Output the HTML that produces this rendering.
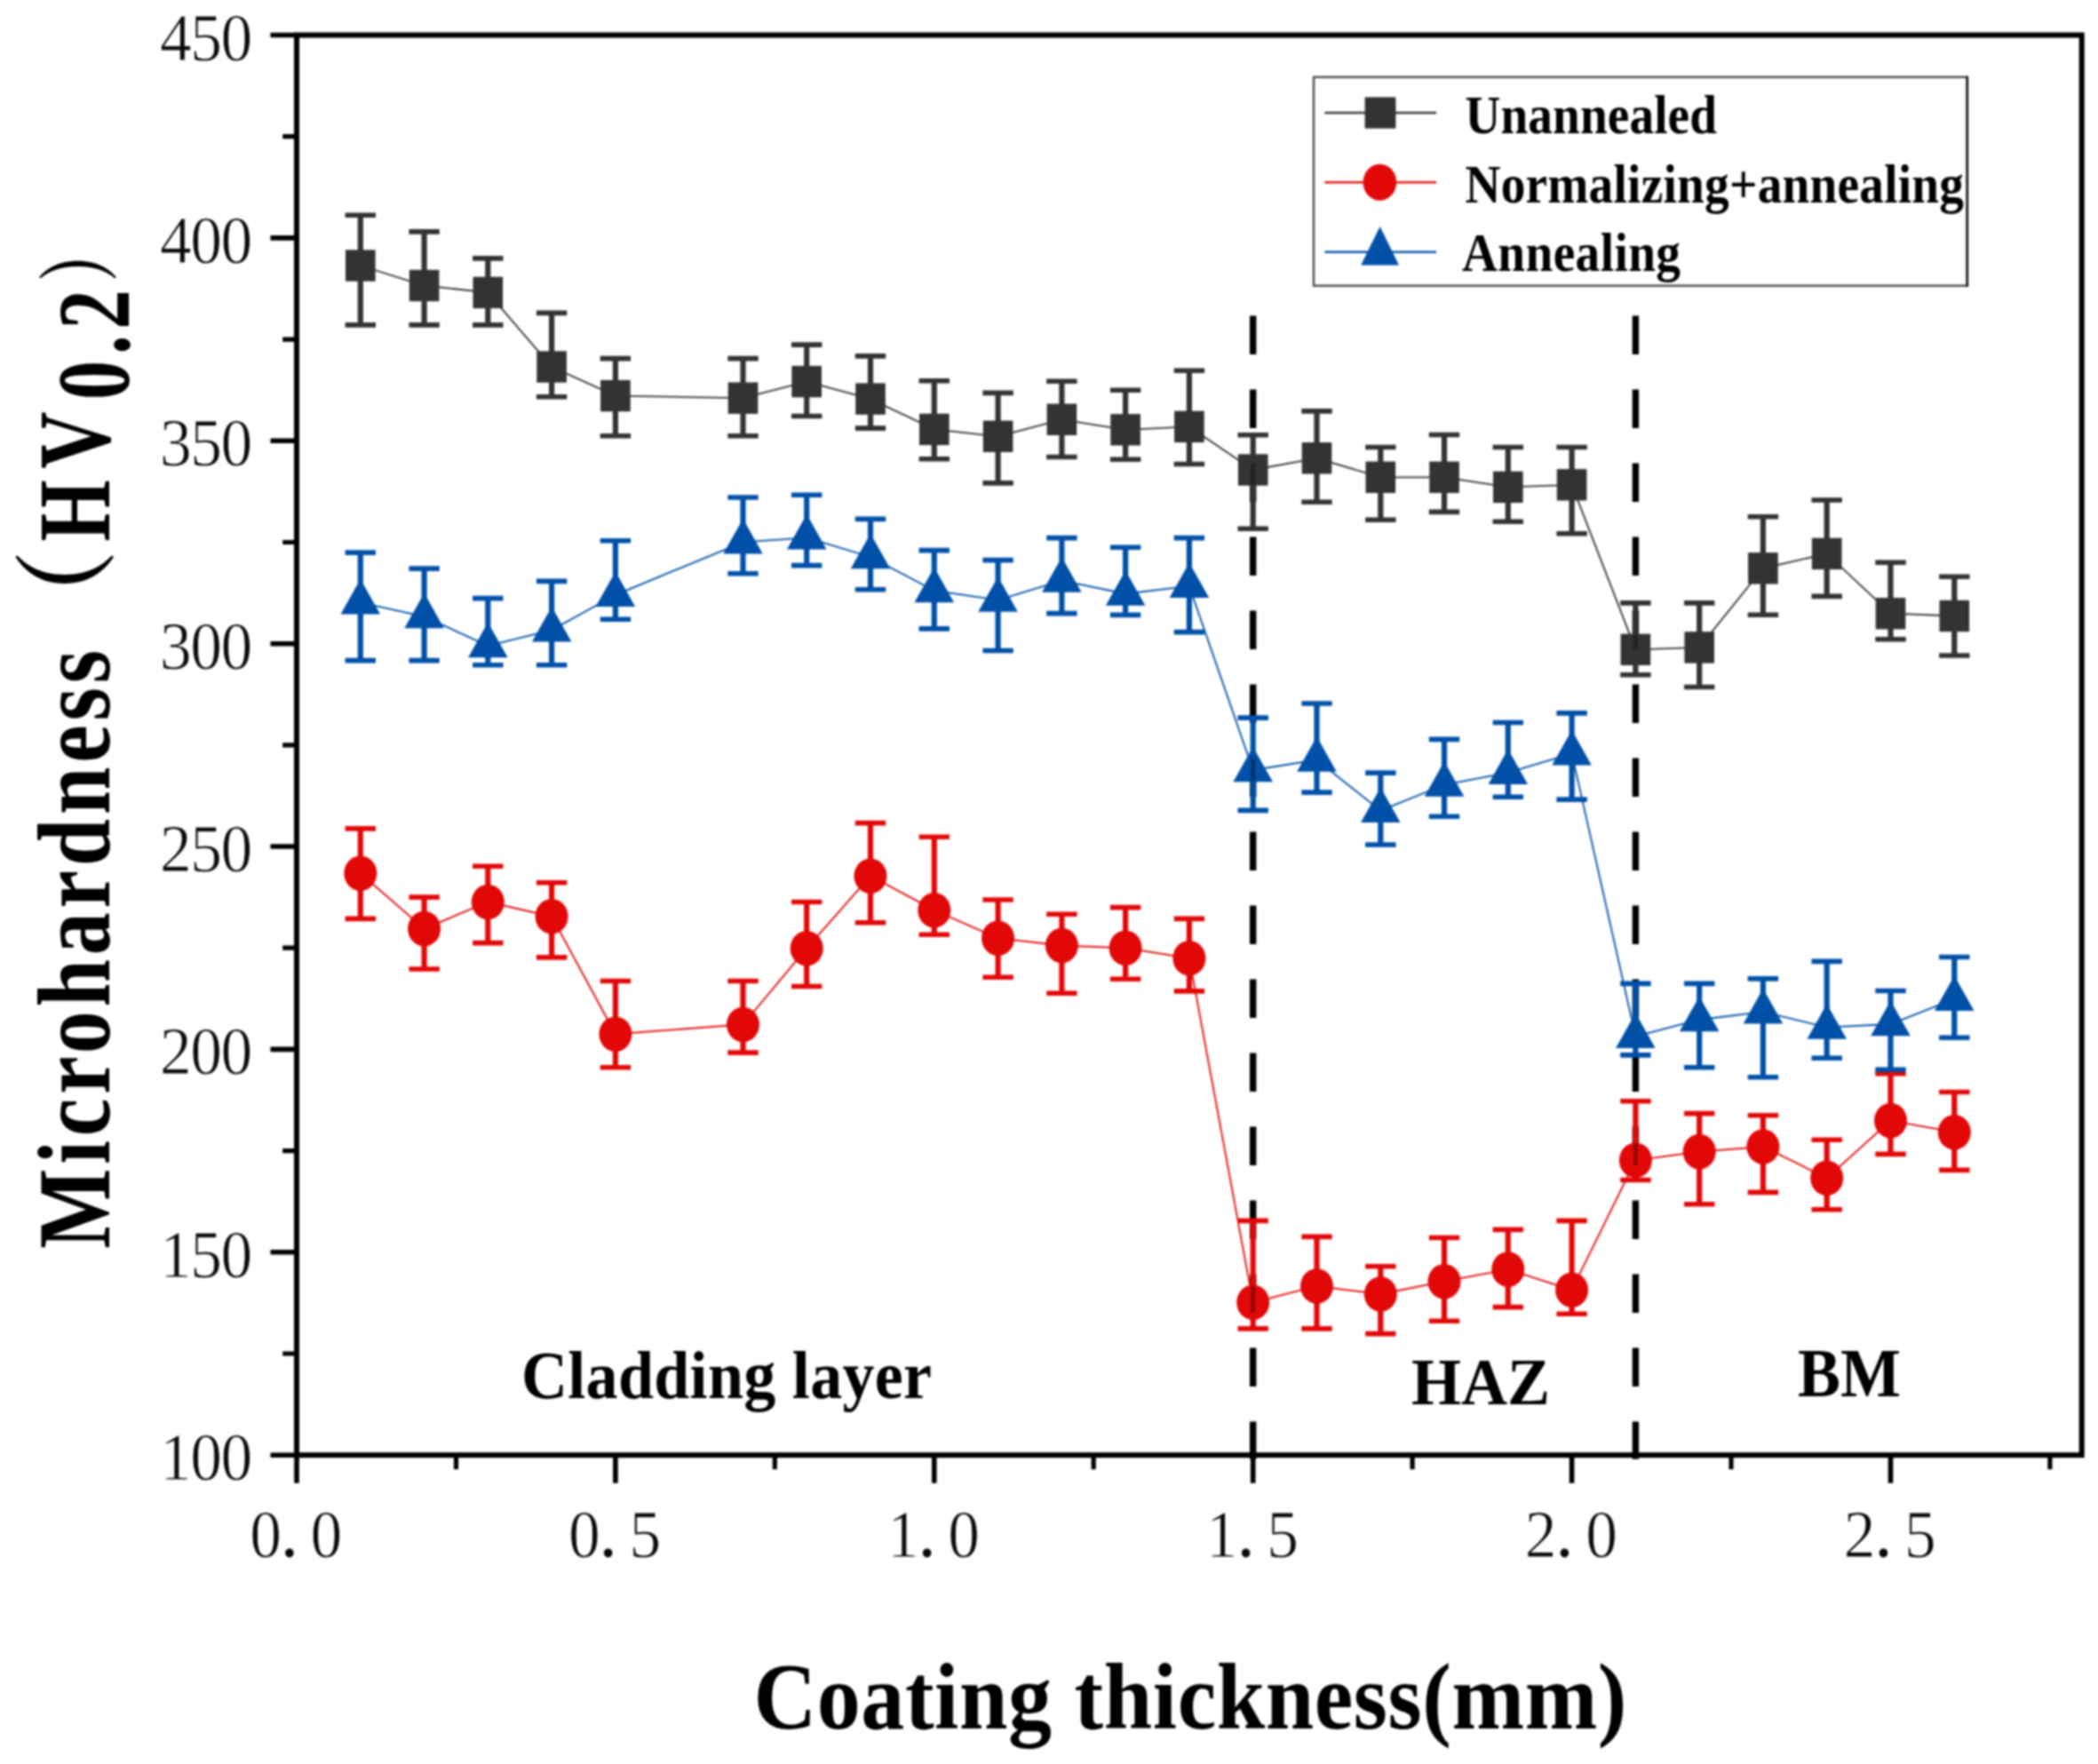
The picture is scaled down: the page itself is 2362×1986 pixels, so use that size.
<!DOCTYPE html>
<html lang="en">
<head>
<meta charset="utf-8">
<title>Microhardness vs coating thickness</title>
<style>
html,body{margin:0;padding:0;background:#fff;}
body{width:2362px;height:1986px;overflow:hidden;}
svg{display:block;filter:blur(0.8px);}
</style>
</head>
<body>
<svg width="2362" height="1986" viewBox="0 0 2362 1986">
<rect width="2362" height="1986" fill="#ffffff"/>
<path d="M1410.7 355.5V399M1410.7 438.5V482M1410.7 521.5V565M1410.7 604.5V648M1410.7 687.5V731M1410.7 770.5V814M1410.7 853.5V897M1410.7 936.5V980M1410.7 1019.5V1063M1410.7 1102.5V1146M1410.7 1185.5V1229M1410.7 1268.5V1312M1410.7 1351.5V1395M1410.7 1434.5V1478M1410.7 1517.5V1561M1410.7 1600.5V1642.7" stroke="#000" stroke-width="7.4" fill="none"/>
<path d="M1841.4 355.5V399M1841.4 438.5V482M1841.4 521.5V565M1841.4 604.5V648M1841.4 687.5V731M1841.4 770.5V814M1841.4 853.5V897M1841.4 936.5V980M1841.4 1019.5V1063M1841.4 1102.5V1146M1841.4 1185.5V1229M1841.4 1268.5V1312M1841.4 1351.5V1395M1841.4 1434.5V1478M1841.4 1517.5V1561M1841.4 1600.5V1642.7" stroke="#000" stroke-width="7.4" fill="none"/>
<g stroke="#333333" fill="#333333">
<polyline fill="none" stroke-width="1.8" stroke-opacity="1" points="405.8,299 477.6,321.5 549.3,329.4 621.1,413 692.9,445.6 836.5,448.2 908.2,429.6 980,449.1 1051.8,483.4 1123.6,491.3 1195.4,472.3 1267.1,483.8 1338.9,480.4 1410.7,529 1482.5,515.8 1554.3,537.3 1626,537.3 1697.8,548.4 1769.6,545.8 1841.4,731.3 1913.2,728.9 1984.9,639.8 2056.7,623.4 2128.5,690.7 2200.3,693.5"/>
<path fill="none" stroke-width="6.2" d="M405.8 242.3V365.9M477.6 260.9V365.9M549.3 290.9V365.9M621.1 352.4V446.8M692.9 403.6V490.8M836.5 403.6V490.8M908.2 388.1V468.5M980 400.9V482.1M1051.8 428.7V516.7M1123.6 442.4V543.9M1195.4 429.2V514.5M1267.1 439.2V517.3M1338.9 417.2V522.5M1410.7 489.8V595.2M1482.5 462.9V565.3M1554.3 503.5V585.3M1626 489.5V576.4M1697.8 503.5V587.3M1769.6 503.5V600.7M1841.4 678.9V759.8M1913.2 678.9V773.5M1984.9 581.8V692.2M2056.7 563V671.4M2128.5 633.2V719.7M2200.3 649.2V738"/>
<path fill="none" stroke-width="5.6" d="M388.6 242.3h34.4M388.6 365.9h34.4M460.4 260.9h34.4M460.4 365.9h34.4M532.1 290.9h34.4M532.1 365.9h34.4M603.9 352.4h34.4M603.9 446.8h34.4M675.7 403.6h34.4M675.7 490.8h34.4M819.3 403.6h34.4M819.3 490.8h34.4M891 388.1h34.4M891 468.5h34.4M962.8 400.9h34.4M962.8 482.1h34.4M1034.6 428.7h34.4M1034.6 516.7h34.4M1106.4 442.4h34.4M1106.4 543.9h34.4M1178.2 429.2h34.4M1178.2 514.5h34.4M1249.9 439.2h34.4M1249.9 517.3h34.4M1321.7 417.2h34.4M1321.7 522.5h34.4M1393.5 489.8h34.4M1393.5 595.2h34.4M1465.3 462.9h34.4M1465.3 565.3h34.4M1537.1 503.5h34.4M1537.1 585.3h34.4M1608.8 489.5h34.4M1608.8 576.4h34.4M1680.6 503.5h34.4M1680.6 587.3h34.4M1752.4 503.5h34.4M1752.4 600.7h34.4M1824.2 678.9h34.4M1824.2 759.8h34.4M1896 678.9h34.4M1896 773.5h34.4M1967.7 581.8h34.4M1967.7 692.2h34.4M2039.5 563h34.4M2039.5 671.4h34.4M2111.3 633.2h34.4M2111.3 719.7h34.4M2183.1 649.2h34.4M2183.1 738h34.4"/>
<rect stroke="none" x="389" y="281.3" width="33.6" height="35.4"/>
<rect stroke="none" x="460.8" y="303.8" width="33.6" height="35.4"/>
<rect stroke="none" x="532.5" y="311.7" width="33.6" height="35.4"/>
<rect stroke="none" x="604.3" y="395.3" width="33.6" height="35.4"/>
<rect stroke="none" x="676.1" y="427.9" width="33.6" height="35.4"/>
<rect stroke="none" x="819.7" y="430.5" width="33.6" height="35.4"/>
<rect stroke="none" x="891.4" y="411.9" width="33.6" height="35.4"/>
<rect stroke="none" x="963.2" y="431.4" width="33.6" height="35.4"/>
<rect stroke="none" x="1035" y="465.7" width="33.6" height="35.4"/>
<rect stroke="none" x="1106.8" y="473.6" width="33.6" height="35.4"/>
<rect stroke="none" x="1178.6" y="454.6" width="33.6" height="35.4"/>
<rect stroke="none" x="1250.3" y="466.1" width="33.6" height="35.4"/>
<rect stroke="none" x="1322.1" y="462.7" width="33.6" height="35.4"/>
<rect stroke="none" x="1393.9" y="511.3" width="33.6" height="35.4"/>
<rect stroke="none" x="1465.7" y="498.1" width="33.6" height="35.4"/>
<rect stroke="none" x="1537.5" y="519.6" width="33.6" height="35.4"/>
<rect stroke="none" x="1609.2" y="519.6" width="33.6" height="35.4"/>
<rect stroke="none" x="1681" y="530.7" width="33.6" height="35.4"/>
<rect stroke="none" x="1752.8" y="528.1" width="33.6" height="35.4"/>
<rect stroke="none" x="1824.6" y="713.6" width="33.6" height="35.4"/>
<rect stroke="none" x="1896.4" y="711.2" width="33.6" height="35.4"/>
<rect stroke="none" x="1968.1" y="622.1" width="33.6" height="35.4"/>
<rect stroke="none" x="2039.9" y="605.7" width="33.6" height="35.4"/>
<rect stroke="none" x="2111.7" y="673" width="33.6" height="35.4"/>
<rect stroke="none" x="2183.5" y="675.8" width="33.6" height="35.4"/>
</g>
<g stroke="#e20808" fill="#e20808">
<polyline fill="none" stroke-width="1.8" stroke-opacity="1" points="405.8,983.2 477.6,1045.6 549.3,1015.5 621.1,1031.8 692.9,1164.2 836.5,1153.5 908.2,1067.7 980,986.2 1051.8,1024.7 1123.6,1056.3 1195.4,1064.5 1267.1,1067.3 1338.9,1078.8 1410.7,1466.3 1482.5,1448 1554.3,1457 1626,1442.7 1697.8,1429.1 1769.6,1452.3 1841.4,1306.3 1913.2,1296.6 1984.9,1291 2056.7,1326.3 2128.5,1261.6 2200.3,1274.7"/>
<path fill="none" stroke-width="6.2" d="M405.8 932.9V1034.4M477.6 1010.1V1091M549.3 975.2V1061.6M621.1 993.8V1077.9M692.9 1104.5V1201.7M836.5 1104.5V1185.1M908.2 1015.5V1110.5M980 926.6V1038.7M1051.8 942.3V1052.2M1123.6 1013V1100.2M1195.4 1029.3V1118.2M1267.1 1021.6V1102.2M1338.9 1034.4V1115.9M1410.7 1374.4V1495.9M1482.5 1392.4V1495.9M1554.3 1425.8V1501.6M1626 1393.5V1487.3M1697.8 1384.4V1471.6M1769.6 1374.4V1479.3M1841.4 1239.7V1328.5M1913.2 1253.6V1355.7M1984.9 1255.8V1342.4M2056.7 1283.3V1361.8M2128.5 1208.7V1299.4M2200.3 1229.5V1317.4"/>
<path fill="none" stroke-width="5.6" d="M388.6 932.9h34.4M388.6 1034.4h34.4M460.4 1010.1h34.4M460.4 1091h34.4M532.1 975.2h34.4M532.1 1061.6h34.4M603.9 993.8h34.4M603.9 1077.9h34.4M675.7 1104.5h34.4M675.7 1201.7h34.4M819.3 1104.5h34.4M819.3 1185.1h34.4M891 1015.5h34.4M891 1110.5h34.4M962.8 926.6h34.4M962.8 1038.7h34.4M1034.6 942.3h34.4M1034.6 1052.2h34.4M1106.4 1013h34.4M1106.4 1100.2h34.4M1178.2 1029.3h34.4M1178.2 1118.2h34.4M1249.9 1021.6h34.4M1249.9 1102.2h34.4M1321.7 1034.4h34.4M1321.7 1115.9h34.4M1393.5 1374.4h34.4M1393.5 1495.9h34.4M1465.3 1392.4h34.4M1465.3 1495.9h34.4M1537.1 1425.8h34.4M1537.1 1501.6h34.4M1608.8 1393.5h34.4M1608.8 1487.3h34.4M1680.6 1384.4h34.4M1680.6 1471.6h34.4M1752.4 1374.4h34.4M1752.4 1479.3h34.4M1824.2 1239.7h34.4M1824.2 1328.5h34.4M1896 1253.6h34.4M1896 1355.7h34.4M1967.7 1255.8h34.4M1967.7 1342.4h34.4M2039.5 1283.3h34.4M2039.5 1361.8h34.4M2111.3 1208.7h34.4M2111.3 1299.4h34.4M2183.1 1229.5h34.4M2183.1 1317.4h34.4"/>
<ellipse stroke="none" cx="405.8" cy="983.2" rx="18.5" ry="19.8"/>
<ellipse stroke="none" cx="477.6" cy="1045.6" rx="18.5" ry="19.8"/>
<ellipse stroke="none" cx="549.3" cy="1015.5" rx="18.5" ry="19.8"/>
<ellipse stroke="none" cx="621.1" cy="1031.8" rx="18.5" ry="19.8"/>
<ellipse stroke="none" cx="692.9" cy="1164.2" rx="18.5" ry="19.8"/>
<ellipse stroke="none" cx="836.5" cy="1153.5" rx="18.5" ry="19.8"/>
<ellipse stroke="none" cx="908.2" cy="1067.7" rx="18.5" ry="19.8"/>
<ellipse stroke="none" cx="980" cy="986.2" rx="18.5" ry="19.8"/>
<ellipse stroke="none" cx="1051.8" cy="1024.7" rx="18.5" ry="19.8"/>
<ellipse stroke="none" cx="1123.6" cy="1056.3" rx="18.5" ry="19.8"/>
<ellipse stroke="none" cx="1195.4" cy="1064.5" rx="18.5" ry="19.8"/>
<ellipse stroke="none" cx="1267.1" cy="1067.3" rx="18.5" ry="19.8"/>
<ellipse stroke="none" cx="1338.9" cy="1078.8" rx="18.5" ry="19.8"/>
<ellipse stroke="none" cx="1410.7" cy="1466.3" rx="18.5" ry="19.8"/>
<ellipse stroke="none" cx="1482.5" cy="1448" rx="18.5" ry="19.8"/>
<ellipse stroke="none" cx="1554.3" cy="1457" rx="18.5" ry="19.8"/>
<ellipse stroke="none" cx="1626" cy="1442.7" rx="18.5" ry="19.8"/>
<ellipse stroke="none" cx="1697.8" cy="1429.1" rx="18.5" ry="19.8"/>
<ellipse stroke="none" cx="1769.6" cy="1452.3" rx="18.5" ry="19.8"/>
<ellipse stroke="none" cx="1841.4" cy="1306.3" rx="18.5" ry="19.8"/>
<ellipse stroke="none" cx="1913.2" cy="1296.6" rx="18.5" ry="19.8"/>
<ellipse stroke="none" cx="1984.9" cy="1291" rx="18.5" ry="19.8"/>
<ellipse stroke="none" cx="2056.7" cy="1326.3" rx="18.5" ry="19.8"/>
<ellipse stroke="none" cx="2128.5" cy="1261.6" rx="18.5" ry="19.8"/>
<ellipse stroke="none" cx="2200.3" cy="1274.7" rx="18.5" ry="19.8"/>
</g>
<g stroke="#0050a8" fill="#0050a8">
<polyline fill="none" stroke-width="1.8" stroke-opacity="1" points="405.8,678.4 477.6,694.1 549.3,727 621.1,709.3 692.9,669.8 836.5,610.3 908.2,605.3 980,627 1051.8,665 1123.6,675.6 1195.4,653.6 1267.1,668.5 1338.9,659.9 1410.7,867 1482.5,855.5 1554.3,912.7 1626,883.5 1697.8,869.8 1769.6,848.3 1841.4,1166.9 1913.2,1148 1984.9,1139.2 2056.7,1156.6 2128.5,1153 2200.3,1124.7"/>
<path fill="none" stroke-width="6.2" d="M405.8 622.1V743.6M477.6 640.1V743.6M549.3 673.6V748.8M621.1 654.4V748.8M692.9 608.7V697.3M836.5 560V645.8M908.2 557.2V636.6M980 584.4V663.8M1051.8 619.6V707.9M1123.6 630.6V732.5M1195.4 605.6V690.6M1267.1 616.2V692.4M1338.9 605.6V711.6M1410.7 808.1V912.4M1482.5 792V892.1M1554.3 870.1V951M1626 832.4V919.3M1697.8 813.5V897.3M1769.6 802.9V900.1M1841.4 1107.4V1187.9M1913.2 1107.4V1201.7M1984.9 1101.9V1212.8M2056.7 1082.4V1191.2M2128.5 1115.5V1204.2M2200.3 1077.5V1168.2"/>
<path fill="none" stroke-width="5.6" d="M388.6 622.1h34.4M388.6 743.6h34.4M460.4 640.1h34.4M460.4 743.6h34.4M532.1 673.6h34.4M532.1 748.8h34.4M603.9 654.4h34.4M603.9 748.8h34.4M675.7 608.7h34.4M675.7 697.3h34.4M819.3 560h34.4M819.3 645.8h34.4M891 557.2h34.4M891 636.6h34.4M962.8 584.4h34.4M962.8 663.8h34.4M1034.6 619.6h34.4M1034.6 707.9h34.4M1106.4 630.6h34.4M1106.4 732.5h34.4M1178.2 605.6h34.4M1178.2 690.6h34.4M1249.9 616.2h34.4M1249.9 692.4h34.4M1321.7 605.6h34.4M1321.7 711.6h34.4M1393.5 808.1h34.4M1393.5 912.4h34.4M1465.3 792h34.4M1465.3 892.1h34.4M1537.1 870.1h34.4M1537.1 951h34.4M1608.8 832.4h34.4M1608.8 919.3h34.4M1680.6 813.5h34.4M1680.6 897.3h34.4M1752.4 802.9h34.4M1752.4 900.1h34.4M1824.2 1107.4h34.4M1824.2 1187.9h34.4M1896 1107.4h34.4M1896 1201.7h34.4M1967.7 1101.9h34.4M1967.7 1212.8h34.4M2039.5 1082.4h34.4M2039.5 1191.2h34.4M2111.3 1115.5h34.4M2111.3 1204.2h34.4M2183.1 1077.5h34.4M2183.1 1168.2h34.4"/>
<path stroke="none" d="M405.8 652.1L428 691.6L383.5 691.6Z"/>
<path stroke="none" d="M477.6 667.8L499.8 707.3L455.3 707.3Z"/>
<path stroke="none" d="M549.3 700.7L571.6 740.2L527.1 740.2Z"/>
<path stroke="none" d="M621.1 683L643.4 722.5L598.9 722.5Z"/>
<path stroke="none" d="M692.9 643.5L715.1 683L670.6 683Z"/>
<path stroke="none" d="M836.5 584L858.7 623.5L814.2 623.5Z"/>
<path stroke="none" d="M908.2 579L930.5 618.5L886 618.5Z"/>
<path stroke="none" d="M980 600.7L1002.3 640.2L957.8 640.2Z"/>
<path stroke="none" d="M1051.8 638.7L1074 678.2L1029.5 678.2Z"/>
<path stroke="none" d="M1123.6 649.3L1145.8 688.8L1101.3 688.8Z"/>
<path stroke="none" d="M1195.4 627.3L1217.6 666.8L1173.1 666.8Z"/>
<path stroke="none" d="M1267.1 642.2L1289.4 681.7L1244.9 681.7Z"/>
<path stroke="none" d="M1338.9 633.6L1361.2 673.1L1316.7 673.1Z"/>
<path stroke="none" d="M1410.7 840.7L1432.9 880.2L1388.4 880.2Z"/>
<path stroke="none" d="M1482.5 829.2L1504.7 868.7L1460.2 868.7Z"/>
<path stroke="none" d="M1554.3 886.4L1576.5 925.9L1532 925.9Z"/>
<path stroke="none" d="M1626 857.2L1648.3 896.7L1603.8 896.7Z"/>
<path stroke="none" d="M1697.8 843.5L1720.1 883L1675.6 883Z"/>
<path stroke="none" d="M1769.6 822L1791.8 861.5L1747.3 861.5Z"/>
<path stroke="none" d="M1841.4 1140.6L1863.6 1180.1L1819.1 1180.1Z"/>
<path stroke="none" d="M1913.2 1121.7L1935.4 1161.2L1890.9 1161.2Z"/>
<path stroke="none" d="M1984.9 1112.9L2007.2 1152.4L1962.7 1152.4Z"/>
<path stroke="none" d="M2056.7 1130.3L2079 1169.8L2034.5 1169.8Z"/>
<path stroke="none" d="M2128.5 1126.7L2150.8 1166.2L2106.2 1166.2Z"/>
<path stroke="none" d="M2200.3 1098.4L2222.5 1137.9L2178 1137.9Z"/>
</g>
<path d="M1410.7 521.5V545.7M1410.7 1447.5V1478M1410.7 853.5V879.2M1841.4 714.6V731M1841.4 1287.5V1312" stroke="#000" stroke-opacity="0.32" stroke-width="5" fill="none"/>
<rect x="334" y="39.5" width="2009.7" height="1598.7" fill="none" stroke="#000" stroke-width="6.0"/>
<path d="M334 1638.2H304.5M334 1409.8H304.5M334 1181.4H304.5M334 953H304.5M334 724.7H304.5M334 496.3H304.5M334 267.9H304.5M334 39.5H304.5M334 1638.2V1669.8M692.9 1638.2V1669.8M1051.8 1638.2V1669.8M1410.7 1638.2V1669.8M1769.6 1638.2V1669.8M2128.5 1638.2V1669.8" stroke="#000" stroke-width="5.6" fill="none"/>
<path d="M334 1524H318.2M334 1295.6H318.2M334 1067.2H318.2M334 838.9H318.2M334 610.5H318.2M334 382.1H318.2M334 153.7H318.2M513.5 1638.2V1654.2M872.3 1638.2V1654.2M1231.2 1638.2V1654.2M1590.1 1638.2V1654.2M1949 1638.2V1654.2M2307.9 1638.2V1654.2" stroke="#000" stroke-width="5.2" fill="none"/>
<g font-family="'Liberation Serif', serif" font-size="76.5" fill="#0a0a0a" stroke="#fff" stroke-width="0.9" text-anchor="middle">
<text transform="translate(0 1666.2) scale(0.935 1)" x="211.7 248.2 284.8" y="0">100</text>
<text transform="translate(0 1437.8) scale(0.935 1)" x="211.7 248.2 284.8" y="0">150</text>
<text transform="translate(0 1209.4) scale(0.935 1)" x="211.7 248.2 284.8" y="0">200</text>
<text transform="translate(0 981) scale(0.935 1)" x="211.7 248.2 284.8" y="0">250</text>
<text transform="translate(0 752.7) scale(0.935 1)" x="211.7 248.2 284.8" y="0">300</text>
<text transform="translate(0 524.3) scale(0.935 1)" x="211.7 248.2 284.8" y="0">350</text>
<text transform="translate(0 295.9) scale(0.935 1)" x="211.7 248.2 284.8" y="0">400</text>
<text transform="translate(0 67.5) scale(0.935 1)" x="211.7 248.2 284.8" y="0">450</text>
<text transform="translate(0 1752.6) scale(0.935 1)" y="0"><tspan x="319.9">0</tspan><tspan x="348.6" font-size="95.6">.</tspan><tspan x="393">0</tspan></text>
<text transform="translate(0 1752.6) scale(0.935 1)" y="0"><tspan x="703.7">0</tspan><tspan x="732.4" font-size="95.6">.</tspan><tspan x="776.9">5</tspan></text>
<text transform="translate(0 1752.6) scale(0.935 1)" y="0"><tspan x="1087.6">1</tspan><tspan x="1116.3" font-size="95.6">.</tspan><tspan x="1160.7">0</tspan></text>
<text transform="translate(0 1752.6) scale(0.935 1)" y="0"><tspan x="1471.4">1</tspan><tspan x="1500.1" font-size="95.6">.</tspan><tspan x="1544.6">5</tspan></text>
<text transform="translate(0 1752.6) scale(0.935 1)" y="0"><tspan x="1855.3">2</tspan><tspan x="1884" font-size="95.6">.</tspan><tspan x="1928.4">0</tspan></text>
<text transform="translate(0 1752.6) scale(0.935 1)" y="0"><tspan x="2239.1">2</tspan><tspan x="2267.8" font-size="95.6">.</tspan><tspan x="2312.3">5</tspan></text>
</g>
<g font-family="'Liberation Serif', serif" font-weight="bold" fill="#000">
<rect x="1479" y="86.8" width="735.8" height="234.9" fill="#fff" stroke="#4a4a4a" stroke-width="2.4"/>
<path d="M2214.8 85.7V323" stroke="#151515" stroke-width="2.6" fill="none"/>
<path d="M1491.3 127H1617.1" stroke="#333333" stroke-width="2.5" stroke-opacity="0.95" fill="none"/>
<path d="M1491.3 205.2H1617.1" stroke="#e20808" stroke-width="2.5" stroke-opacity="0.95" fill="none"/>
<path d="M1491.3 283.7H1617.1" stroke="#0050a8" stroke-width="2.5" stroke-opacity="0.95" fill="none"/>
<rect x="1536.6" y="109.4" width="34.8" height="35.2" fill="#333333"/>
<ellipse cx="1553.4" cy="205.3" rx="18.8" ry="20.5" fill="#e20808"/>
<path d="M1553.6 254.9L1575 298.4L1532.2 298.4Z" fill="#0050a8"/>
<text transform="translate(1649.5 150.2) scale(1 1.09)" font-size="55.3" text-anchor="start" textLength="283.5" lengthAdjust="spacing">Unannealed</text>
<text transform="translate(1649.5 227.8) scale(1 1.09)" font-size="55.3" text-anchor="start" textLength="561.5" lengthAdjust="spacing">Normalizing+annealing</text>
<text transform="translate(1646 305.4) scale(1 1.09)" font-size="55.3" text-anchor="start" textLength="246" lengthAdjust="spacing">Annealing</text>
<text transform="translate(587 1574) scale(1 1.05)" font-size="72" text-anchor="start" textLength="462" lengthAdjust="spacing">Cladding layer</text>
<text transform="translate(1589 1580.6) scale(1 1.04)" font-size="72" text-anchor="start" textLength="156" lengthAdjust="spacing">HAZ</text>
<text transform="translate(2024 1571.8) scale(1 1.1)" font-size="72" text-anchor="start" textLength="116" lengthAdjust="spacing">BM</text>
<text transform="translate(848.5 1946) scale(1 1.08)" font-size="98" text-anchor="start" textLength="983" lengthAdjust="spacing">Coating thickness(mm)</text>
<g transform="translate(123.4 1406) rotate(-90)"><text transform="scale(1 1.22)" font-size="96" textLength="674" lengthAdjust="spacing">Microhardness</text><text transform="translate(681 -6.5) scale(0.904 1)" font-size="117" font-family="'Liberation Serif', 'Noto Serif CJK SC', serif">（</text><text transform="translate(796.5 0) scale(1 1.32)" font-size="89"><tspan x="0" y="0" textLength="146" lengthAdjust="spacing">HV</tspan><tspan x="159.3" y="16.2" textLength="124" lengthAdjust="spacing">0.2</tspan></text><text transform="translate(1089 0) scale(0.706 1)" font-size="92" font-family="'Liberation Serif', 'Noto Serif CJK SC', serif">）</text></g>
</g>
</svg>
</body>
</html>
